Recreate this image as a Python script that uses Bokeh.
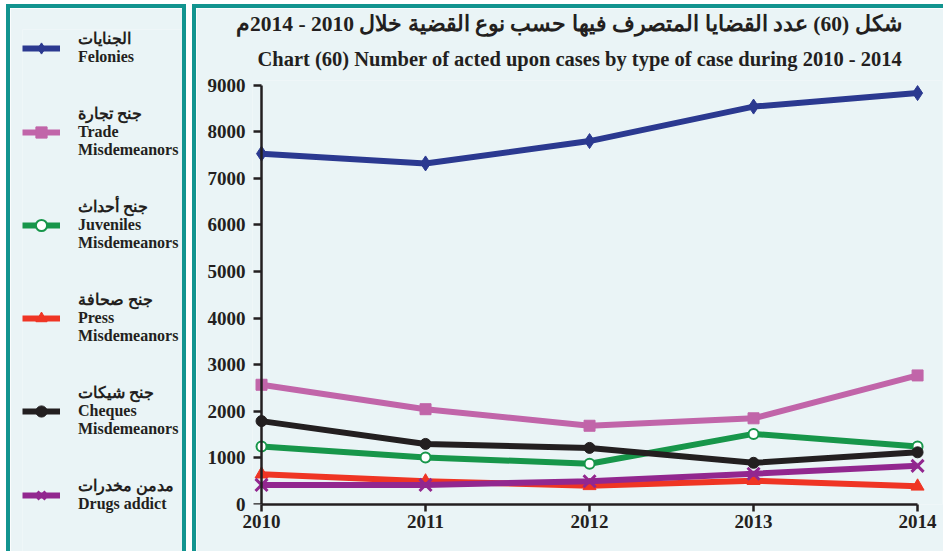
from bokeh.plotting import figure
from bokeh.models import Range1d, Legend, LegendItem, FixedTicker, LinearAxis, Title
from bokeh.layouts import row
from bokeh.embed import file_html
from bokeh.resources import INLINE

# ---- data ----
years = [2010, 2011, 2012, 2013, 2014]
felonies = [7530, 7320, 7800, 8540, 8830]
trade = [2570, 2045, 1690, 1850, 2770]
juveniles = [1245, 1010, 875, 1515, 1245]
press = [650, 500, 400, 510, 390]
cheques = [1790, 1300, 1215, 895, 1120]
drugs = [420, 420, 500, 660, 830]

y_ticks = [0, 1000, 2000, 3000, 4000, 5000, 6000, 7000, 8000, 9000]

labels = [
    "الجنايات\nFelonies",
    "جنح تجارة\nTrade\nMisdemeanors",
    "جنح أحداث\nJuveniles\nMisdemeanors",
    "جنح صحافة\nPress\nMisdemeanors",
    "جنح شيكات\nCheques\nMisdemeanors",
    "مدمن مخدرات\nDrugs addict",
]
title_ar = "شكل (60) عدد القضايا المتصرف فيها حسب نوع القضية خلال 2010 - 2014م"
title_en = "Chart (60) Number of acted upon cases by type of case during 2010 - 2014"

# ---- styles ----
BG = "#EAF4F6"
TEAL = "#12948F"
TXT = "#231F20"
FONT = "Liberation Serif"

styles = [
    dict(color="#2B3990", marker="diamond", size=15, fill="#2B3990", lw=1),
    dict(color="#C165A9", marker="square", size=11, fill="#C165A9", lw=1),
    dict(color="#17964A", marker="circle", size=10, fill="white", lw=2),
    dict(color="#EF3524", marker="triangle", size=13, fill="#EF3524", lw=1),
    dict(color="#231F20", marker="circle", size=11, fill="#231F20", lw=1),
    dict(color="#92278F", marker="x", size=17, fill="#92278F", lw=3),
]
series = [felonies, trade, juveniles, press, cheques, drugs]


def draw(fig, vals, st):
    rl = fig.line(years, vals, line_color=st["color"], line_width=6, line_join="round")
    rm = fig.scatter(years, vals, marker=st["marker"], size=st["size"],
                     fill_color=st["fill"], line_color=st["color"], line_width=st["lw"])
    return rl, rm


def style_axis(ax):
    ax.axis_line_color = TXT
    ax.axis_line_width = 2.5
    ax.major_tick_line_color = TXT
    ax.major_tick_line_width = 2.5
    ax.major_tick_in = 0
    ax.minor_tick_line_color = None
    ax.major_label_text_font = FONT
    ax.major_label_text_font_style = "bold"
    ax.major_label_text_font_size = "19px"
    ax.major_label_text_color = TXT


# ---- main chart ----
p = figure(width=751, height=547, x_range=Range1d(2009.945, 2014.152),
           y_range=Range1d(0, 9100), output_backend="svg", toolbar_location=None,
           min_border_left=56, min_border_right=5, min_border_top=72,
           min_border_bottom=51)
p.frame_align = False
p.background_fill_color = BG
p.border_fill_color = BG
p.outline_line_color = None
p.xgrid.visible = False
p.ygrid.visible = False

# upper (Arabic) title line
p.title.text = title_ar
p.title.align = "right"
p.title.offset = 41
p.title.text_font = FONT
p.title.text_font_style = "bold"
p.title.text_font_size = "21.5px"
p.title.text_color = TXT
p.title.standoff = 0

# lower (English) title line, nearest the plot
p.add_layout(Title(text=title_en, align="left", offset=5, standoff=21,
                   text_font=FONT, text_font_style="bold", text_font_size="20.5px",
                   text_color=TXT), "above")

style_axis(p.xaxis[0])
p.xaxis[0].ticker = FixedTicker(ticks=years)
p.xaxis[0].bounds = (years[0], years[-1])
p.xaxis[0].major_tick_out = 7
p.xaxis[0].major_label_standoff = 3

# labels of the value axis
ylab = p.yaxis[0]
style_axis(ylab)
ylab.ticker = FixedTicker(ticks=y_ticks)
ylab.axis_line_color = None
ylab.major_tick_line_color = None
ylab.major_tick_out = 0
ylab.major_label_standoff = 7

# line and ticks of the value axis, sitting on the first year
yline = LinearAxis(fixed_location=years[0], ticker=FixedTicker(ticks=y_ticks),
                   bounds=(y_ticks[0], y_ticks[-1]))
style_axis(yline)
yline.major_tick_out = 8
yline.major_label_standoff = 0
yline.major_label_overrides = {t: "" for t in y_ticks}
p.add_layout(yline, "left")

for vals, st in zip(series, styles):
    draw(p, vals, st)

p.styles = {"border-left": "4px solid " + TEAL, "border-top": "4px solid " + TEAL,
            "box-sizing": "border-box"}
p.margin = (4, 0, 0, 0)

# ---- legend panel ----
pl = figure(width=180, height=547, x_range=Range1d(0, 1), y_range=Range1d(0, 1),
            output_backend="svg", toolbar_location=None, title=None,
            x_axis_location=None, y_axis_location=None,
            min_border_left=12, min_border_top=21, min_border_right=0, min_border_bottom=0)
pl.frame_align = False
pl.background_fill_color = BG
pl.border_fill_color = BG
pl.outline_line_color = None
pl.xgrid.visible = False
pl.ygrid.visible = False

items = []
for lab, vals, st in zip(labels, series, styles):
    rl, rm = draw(pl, vals, st)
    items.append(LegendItem(label=lab, renderers=[rl, rm]))

legend = Legend(items=items, location="top_left", margin=0, padding=0, spacing=38,
                glyph_width=38, glyph_height=28, label_standoff=18,
                background_fill_alpha=0, border_line_alpha=0,
                label_text_font=FONT, label_text_font_style="bold",
                label_text_font_size="16px", label_text_color=TXT,
                label_text_line_height=1.25)
pl.add_layout(legend)
pl.styles = {"border-left": "4px solid " + TEAL, "border-top": "4px solid " + TEAL,
             "border-right": "4px solid " + TEAL, "box-sizing": "border-box"}
pl.margin = (4, 0, 0, 6)

layout = row(pl, p, spacing=6)

open("out.html", "w").write(file_html(layout, INLINE))
